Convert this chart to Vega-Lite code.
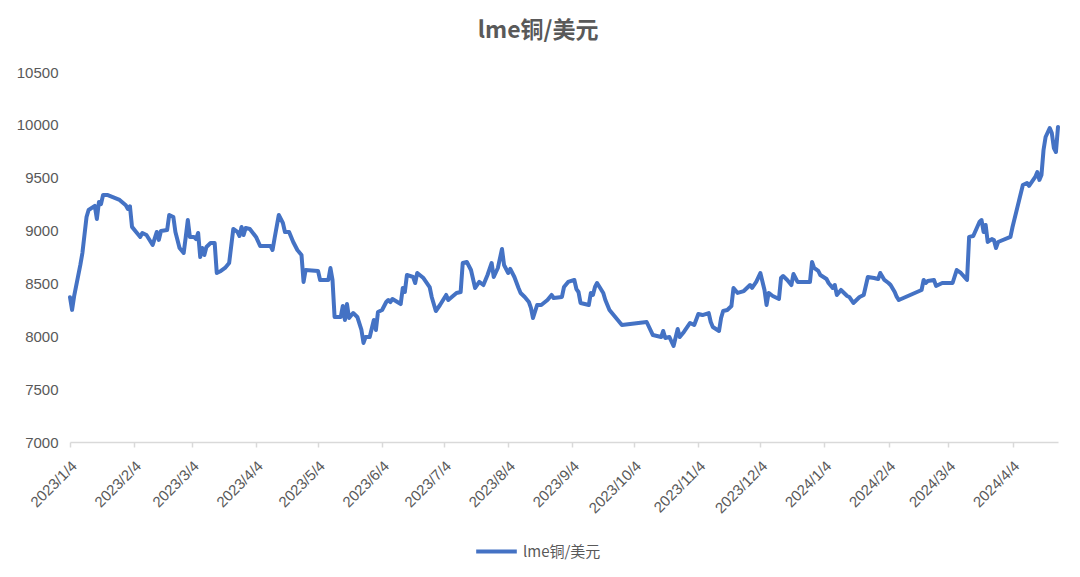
{
  "$schema": "https://vega.github.io/schema/vega-lite/v6.json",
  "width": 988,
  "height": 370,
  "autosize": {"type": "none"},
  "padding": {"left": 70, "top": 72, "right": 22, "bottom": 135},
  "background": "white",
  "title": {"text": "lme铜/美元", "font": "Noto Sans CJK SC", "fontSize": 23, "fontWeight": "bold", "color": "#595959", "offset": 22, "anchor": "middle", "frame": "bounds"},
  "data": {"values": [
    {"date": "2023/01/04", "v": 8370}, {"date": "2023/01/05", "v": 8250}, {"date": "2023/01/06", "v": 8380}, {"date": "2023/01/09", "v": 8675},
    {"date": "2023/01/10", "v": 8788}, {"date": "2023/01/12", "v": 9128}, {"date": "2023/01/13", "v": 9195}, {"date": "2023/01/16", "v": 9233},
    {"date": "2023/01/17", "v": 9110}, {"date": "2023/01/18", "v": 9270}, {"date": "2023/01/19", "v": 9250}, {"date": "2023/01/20", "v": 9337},
    {"date": "2023/01/22", "v": 9337}, {"date": "2023/01/28", "v": 9290}, {"date": "2023/01/31", "v": 9240}, {"date": "2023/02/01", "v": 9205},
    {"date": "2023/02/02", "v": 9230}, {"date": "2023/02/03", "v": 9035}, {"date": "2023/02/05", "v": 8987}, {"date": "2023/02/07", "v": 8940},
    {"date": "2023/02/08", "v": 8977}, {"date": "2023/02/10", "v": 8958}, {"date": "2023/02/13", "v": 8864}, {"date": "2023/02/15", "v": 8987},
    {"date": "2023/02/16", "v": 8912}, {"date": "2023/02/17", "v": 8996}, {"date": "2023/02/20", "v": 9005}, {"date": "2023/02/21", "v": 9147},
    {"date": "2023/02/23", "v": 9128}, {"date": "2023/02/24", "v": 8987}, {"date": "2023/02/26", "v": 8835}, {"date": "2023/02/28", "v": 8788},
    {"date": "2023/03/01", "v": 8940}, {"date": "2023/03/02", "v": 9100}, {"date": "2023/03/03", "v": 8940}, {"date": "2023/03/05", "v": 8940},
    {"date": "2023/03/06", "v": 8920}, {"date": "2023/03/07", "v": 8977}, {"date": "2023/03/08", "v": 8750}, {"date": "2023/03/09", "v": 8835},
    {"date": "2023/03/10", "v": 8769}, {"date": "2023/03/11", "v": 8845}, {"date": "2023/03/13", "v": 8882}, {"date": "2023/03/15", "v": 8882},
    {"date": "2023/03/16", "v": 8599}, {"date": "2023/03/18", "v": 8618}, {"date": "2023/03/20", "v": 8646}, {"date": "2023/03/22", "v": 8693},
    {"date": "2023/03/24", "v": 9015}, {"date": "2023/03/26", "v": 8987}, {"date": "2023/03/27", "v": 8949}, {"date": "2023/03/28", "v": 9034},
    {"date": "2023/03/29", "v": 8958}, {"date": "2023/03/30", "v": 9024}, {"date": "2023/04/01", "v": 9015}, {"date": "2023/04/04", "v": 8940},
    {"date": "2023/04/06", "v": 8854}, {"date": "2023/04/11", "v": 8854}, {"date": "2023/04/12", "v": 8816}, {"date": "2023/04/13", "v": 8930},
    {"date": "2023/04/15", "v": 9147}, {"date": "2023/04/17", "v": 9072}, {"date": "2023/04/18", "v": 8987}, {"date": "2023/04/20", "v": 8987},
    {"date": "2023/04/22", "v": 8892}, {"date": "2023/04/24", "v": 8816}, {"date": "2023/04/26", "v": 8769}, {"date": "2023/04/27", "v": 8514},
    {"date": "2023/04/28", "v": 8627}, {"date": "2023/05/04", "v": 8618}, {"date": "2023/05/05", "v": 8533}, {"date": "2023/05/09", "v": 8533},
    {"date": "2023/05/10", "v": 8646}, {"date": "2023/05/11", "v": 8533}, {"date": "2023/05/12", "v": 8183}, {"date": "2023/05/15", "v": 8183},
    {"date": "2023/05/16", "v": 8287}, {"date": "2023/05/17", "v": 8154}, {"date": "2023/05/18", "v": 8305}, {"date": "2023/05/19", "v": 8173},
    {"date": "2023/05/21", "v": 8220}, {"date": "2023/05/23", "v": 8183}, {"date": "2023/05/25", "v": 8060}, {"date": "2023/05/26", "v": 7937},
    {"date": "2023/05/27", "v": 7993}, {"date": "2023/05/29", "v": 7993}, {"date": "2023/05/31", "v": 8154}, {"date": "2023/06/01", "v": 8060},
    {"date": "2023/06/02", "v": 8230}, {"date": "2023/06/04", "v": 8249}, {"date": "2023/06/06", "v": 8324}, {"date": "2023/06/07", "v": 8343},
    {"date": "2023/06/08", "v": 8324}, {"date": "2023/06/09", "v": 8353}, {"date": "2023/06/13", "v": 8305}, {"date": "2023/06/14", "v": 8457},
    {"date": "2023/06/15", "v": 8419}, {"date": "2023/06/16", "v": 8580}, {"date": "2023/06/19", "v": 8561}, {"date": "2023/06/20", "v": 8504},
    {"date": "2023/06/21", "v": 8599}, {"date": "2023/06/24", "v": 8551}, {"date": "2023/06/27", "v": 8466}, {"date": "2023/06/28", "v": 8372},
    {"date": "2023/06/30", "v": 8239}, {"date": "2023/07/02", "v": 8296}, {"date": "2023/07/05", "v": 8391}, {"date": "2023/07/06", "v": 8343},
    {"date": "2023/07/10", "v": 8410}, {"date": "2023/07/12", "v": 8419}, {"date": "2023/07/13", "v": 8693}, {"date": "2023/07/15", "v": 8703},
    {"date": "2023/07/17", "v": 8627}, {"date": "2023/07/19", "v": 8457}, {"date": "2023/07/21", "v": 8514}, {"date": "2023/07/23", "v": 8485},
    {"date": "2023/07/25", "v": 8580}, {"date": "2023/07/27", "v": 8693}, {"date": "2023/07/28", "v": 8561}, {"date": "2023/07/30", "v": 8646},
    {"date": "2023/08/01", "v": 8826}, {"date": "2023/08/02", "v": 8674}, {"date": "2023/08/04", "v": 8599}, {"date": "2023/08/05", "v": 8637},
    {"date": "2023/08/07", "v": 8561}, {"date": "2023/08/09", "v": 8457}, {"date": "2023/08/10", "v": 8410}, {"date": "2023/08/12", "v": 8372},
    {"date": "2023/08/14", "v": 8324}, {"date": "2023/08/15", "v": 8268}, {"date": "2023/08/16", "v": 8173}, {"date": "2023/08/18", "v": 8296},
    {"date": "2023/08/20", "v": 8296}, {"date": "2023/08/23", "v": 8343}, {"date": "2023/08/25", "v": 8391}, {"date": "2023/08/26", "v": 8362},
    {"date": "2023/08/30", "v": 8372}, {"date": "2023/08/31", "v": 8466}, {"date": "2023/09/02", "v": 8514}, {"date": "2023/09/05", "v": 8533},
    {"date": "2023/09/06", "v": 8447}, {"date": "2023/09/07", "v": 8419}, {"date": "2023/09/08", "v": 8315}, {"date": "2023/09/12", "v": 8296},
    {"date": "2023/09/13", "v": 8410}, {"date": "2023/09/14", "v": 8391}, {"date": "2023/09/15", "v": 8466}, {"date": "2023/09/16", "v": 8504},
    {"date": "2023/09/19", "v": 8410}, {"date": "2023/09/20", "v": 8343}, {"date": "2023/09/22", "v": 8249}, {"date": "2023/09/24", "v": 8201},
    {"date": "2023/09/26", "v": 8154}, {"date": "2023/09/28", "v": 8107}, {"date": "2023/10/10", "v": 8135}, {"date": "2023/10/13", "v": 8012},
    {"date": "2023/10/17", "v": 7993}, {"date": "2023/10/18", "v": 8050}, {"date": "2023/10/19", "v": 7984}, {"date": "2023/10/21", "v": 7993},
    {"date": "2023/10/23", "v": 7908}, {"date": "2023/10/25", "v": 8069}, {"date": "2023/10/26", "v": 7993}, {"date": "2023/10/28", "v": 8041},
    {"date": "2023/10/31", "v": 8126}, {"date": "2023/11/02", "v": 8107}, {"date": "2023/11/04", "v": 8211}, {"date": "2023/11/06", "v": 8201},
    {"date": "2023/11/09", "v": 8220}, {"date": "2023/11/10", "v": 8135}, {"date": "2023/11/11", "v": 8088}, {"date": "2023/11/14", "v": 8050},
    {"date": "2023/11/15", "v": 8173}, {"date": "2023/11/16", "v": 8239}, {"date": "2023/11/18", "v": 8249}, {"date": "2023/11/20", "v": 8287},
    {"date": "2023/11/21", "v": 8457}, {"date": "2023/11/23", "v": 8410}, {"date": "2023/11/26", "v": 8428}, {"date": "2023/11/28", "v": 8466},
    {"date": "2023/11/29", "v": 8485}, {"date": "2023/11/30", "v": 8457}, {"date": "2023/12/02", "v": 8514}, {"date": "2023/12/04", "v": 8599},
    {"date": "2023/12/06", "v": 8438}, {"date": "2023/12/07", "v": 8296}, {"date": "2023/12/08", "v": 8410}, {"date": "2023/12/10", "v": 8381},
    {"date": "2023/12/13", "v": 8353}, {"date": "2023/12/14", "v": 8551}, {"date": "2023/12/15", "v": 8570}, {"date": "2023/12/17", "v": 8533},
    {"date": "2023/12/19", "v": 8485}, {"date": "2023/12/20", "v": 8589}, {"date": "2023/12/22", "v": 8514}, {"date": "2023/12/24", "v": 8514},
    {"date": "2023/12/28", "v": 8514}, {"date": "2023/12/29", "v": 8703}, {"date": "2023/12/30", "v": 8646}, {"date": "2024/01/01", "v": 8618},
    {"date": "2024/01/02", "v": 8580}, {"date": "2024/01/05", "v": 8542}, {"date": "2024/01/06", "v": 8504}, {"date": "2024/01/08", "v": 8457},
    {"date": "2024/01/09", "v": 8485}, {"date": "2024/01/10", "v": 8391}, {"date": "2024/01/12", "v": 8438}, {"date": "2024/01/15", "v": 8381},
    {"date": "2024/01/16", "v": 8372}, {"date": "2024/01/18", "v": 8315}, {"date": "2024/01/21", "v": 8372}, {"date": "2024/01/23", "v": 8391},
    {"date": "2024/01/25", "v": 8561}, {"date": "2024/01/28", "v": 8551}, {"date": "2024/01/30", "v": 8542}, {"date": "2024/01/31", "v": 8599},
    {"date": "2024/02/02", "v": 8533}, {"date": "2024/02/04", "v": 8504}, {"date": "2024/02/05", "v": 8485}, {"date": "2024/02/07", "v": 8419},
    {"date": "2024/02/08", "v": 8372}, {"date": "2024/02/09", "v": 8343}, {"date": "2024/02/20", "v": 8438}, {"date": "2024/02/21", "v": 8533},
    {"date": "2024/02/22", "v": 8504}, {"date": "2024/02/23", "v": 8523}, {"date": "2024/02/26", "v": 8533}, {"date": "2024/02/27", "v": 8476},
    {"date": "2024/03/01", "v": 8504}, {"date": "2024/03/05", "v": 8504}, {"date": "2024/03/06", "v": 8504}, {"date": "2024/03/08", "v": 8627},
    {"date": "2024/03/10", "v": 8599}, {"date": "2024/03/13", "v": 8533}, {"date": "2024/03/14", "v": 8940}, {"date": "2024/03/16", "v": 8949},
    {"date": "2024/03/19", "v": 9081}, {"date": "2024/03/20", "v": 9100}, {"date": "2024/03/21", "v": 8987}, {"date": "2024/03/22", "v": 9053},
    {"date": "2024/03/23", "v": 8892}, {"date": "2024/03/25", "v": 8920}, {"date": "2024/03/26", "v": 8911}, {"date": "2024/03/27", "v": 8835},
    {"date": "2024/03/28", "v": 8892}, {"date": "2024/04/03", "v": 8940}, {"date": "2024/04/04", "v": 9034}, {"date": "2024/04/09", "v": 9431},
    {"date": "2024/04/11", "v": 9450}, {"date": "2024/04/12", "v": 9422}, {"date": "2024/04/15", "v": 9507}, {"date": "2024/04/16", "v": 9554},
    {"date": "2024/04/17", "v": 9479}, {"date": "2024/04/18", "v": 9526}, {"date": "2024/04/19", "v": 9762}, {"date": "2024/04/20", "v": 9885},
    {"date": "2024/04/22", "v": 9970}, {"date": "2024/04/23", "v": 9923}, {"date": "2024/04/24", "v": 9781}, {"date": "2024/04/25", "v": 9743},
    {"date": "2024/04/26", "v": 9980}
  ]},
  "mark": {"type": "line", "strokeWidth": 4, "strokeJoin": "round", "strokeCap": "round"},
  "encoding": {
    "x": {
      "field": "date", "type": "temporal",
      "scale": {"domain": [{"year": 2023, "month": 1, "date": 4}, {"year": 2024, "month": 4, "date": 26}], "nice": false},
      "axis": {
        "title": null,
        "values": [
          {"year": 2023, "month": 1, "date": 4}, {"year": 2023, "month": 2, "date": 4}, {"year": 2023, "month": 3, "date": 4},
          {"year": 2023, "month": 4, "date": 4}, {"year": 2023, "month": 5, "date": 4}, {"year": 2023, "month": 6, "date": 4},
          {"year": 2023, "month": 7, "date": 4}, {"year": 2023, "month": 8, "date": 4}, {"year": 2023, "month": 9, "date": 4},
          {"year": 2023, "month": 10, "date": 4}, {"year": 2023, "month": 11, "date": 4}, {"year": 2023, "month": 12, "date": 4},
          {"year": 2024, "month": 1, "date": 4}, {"year": 2024, "month": 2, "date": 4}, {"year": 2024, "month": 3, "date": 4},
          {"year": 2024, "month": 4, "date": 4}
        ],
        "format": "%Y/%-m/%-d",
        "labelAngle": -45,
        "labelFont": "Liberation Sans",
        "labelFontSize": 15,
        "labelColor": "#595959",
        "labelOverlap": false,
        "labelPadding": 11,
        "labelOffset": -1,
        "domainColor": "#d9d9d9",
        "domainWidth": 1.5,
        "tickColor": "#d9d9d9",
        "tickWidth": 1.5,
        "tickSize": 5,
        "grid": false
      }
    },
    "y": {
      "field": "v", "type": "quantitative",
      "scale": {"domain": [7000, 10500], "nice": false, "zero": false},
      "axis": {
        "title": null,
        "values": [7000, 7500, 8000, 8500, 9000, 9500, 10000, 10500],
        "format": "d",
        "labelFont": "Liberation Sans",
        "labelFontSize": 15,
        "labelColor": "#595959",
        "labelPadding": 12,
        "domain": false,
        "ticks": false,
        "grid": false
      }
    },
    "color": {
      "datum": "lme铜/美元",
      "scale": {"range": ["#4472C4"]},
      "legend": {
        "title": null,
        "orient": "none",
        "legendX": 404,
        "legendY": 457,
        "padding": 0,
        "symbolType": "stroke",
        "symbolStrokeWidth": 4,
        "symbolSize": 1650,
        "labelFont": "Noto Sans CJK SC",
        "labelFontSize": 15,
        "labelColor": "#595959"
      }
    }
  },
  "config": {"view": {"stroke": null}}
}
